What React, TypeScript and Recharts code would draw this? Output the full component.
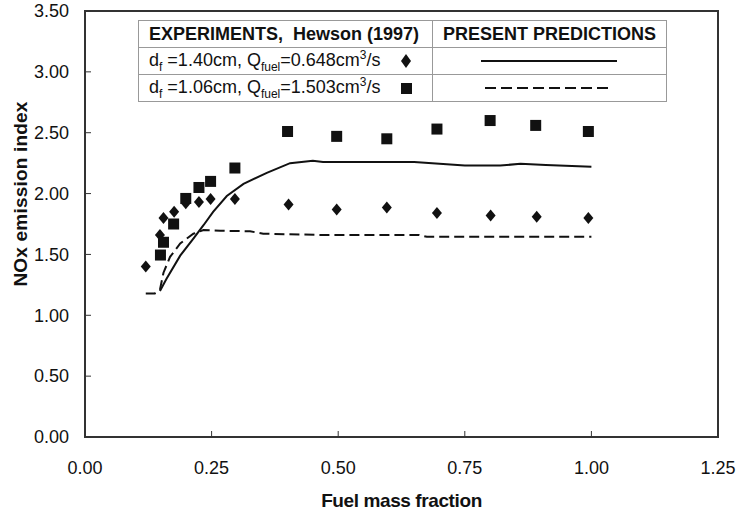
import React from 'react';
import { ComposedChart, Line, Scatter, XAxis, YAxis, ReferenceArea } from 'recharts';

// experiments, Hewson (1997)
const expSmallX = [0.12, 0.148, 0.155, 0.176, 0.199, 0.225, 0.248, 0.296, 0.402, 0.497, 0.596, 0.695, 0.801, 0.892, 0.994];
const expSmallY = [1.4, 1.66, 1.8, 1.85, 1.92, 1.93, 1.955, 1.955, 1.91, 1.87, 1.885, 1.84, 1.82, 1.81, 1.8];
const expLargeX = [0.149, 0.155, 0.175, 0.199, 0.225, 0.248, 0.296, 0.4, 0.497, 0.596, 0.695, 0.8, 0.89, 0.994];
const expLargeY = [1.495, 1.6, 1.75, 1.96, 2.05, 2.1, 2.21, 2.51, 2.47, 2.45, 2.53, 2.6, 2.56, 2.51];

// present predictions
const predSolidX = [0.148, 0.161, 0.188, 0.214, 0.234, 0.253, 0.28, 0.313, 0.359, 0.405, 0.45, 0.47, 0.65, 0.75, 0.82, 0.86, 0.91, 1.0];
const predSolidY = [1.2, 1.3, 1.49, 1.63, 1.74, 1.85, 1.98, 2.08, 2.17, 2.25, 2.27, 2.26, 2.26, 2.23, 2.23, 2.245, 2.235, 2.22];
const predDashX = [0.12, 0.138, 0.148, 0.155, 0.168, 0.188, 0.214, 0.234, 0.267, 0.326, 0.352, 0.464, 0.66, 0.675, 1.0];
const predDashY = [1.18, 1.18, 1.21, 1.35, 1.48, 1.59, 1.67, 1.7, 1.695, 1.69, 1.67, 1.66, 1.66, 1.645, 1.645];

const xTicks = [0, 0.25, 0.5, 0.75, 1.0, 1.25];
const yTicks = [0, 0.5, 1.0, 1.5, 2.0, 2.5, 3.0, 3.5];

const zip = (xs: number[], ys: number[]) => xs.map((x, i) => ({ x, y: ys[i] }));

const FONT = '"Liberation Sans", Arial, sans-serif';
const INK = '#111';
const FRAME = '#333';

const Diamond = (props: any) => {
  const { cx, cy } = props;
  return <path d={`M${cx},${cy - 6} L${cx + 5},${cy} L${cx},${cy + 6} L${cx - 5},${cy} Z`} fill={INK} />;
};

const Square = (props: any) => {
  const { cx, cy } = props;
  return <rect x={cx - 5.5} y={cy - 5.5} width={11} height={11} fill={INK} />;
};

const XTick = (props: any) => {
  const { x, y, payload } = props;
  return (
    <g>
      <line x1={x} x2={x} y1={y} y2={y - 6} stroke={FRAME} strokeWidth={1} />
      <text x={x} y={y + 31} dy="0.35em" textAnchor="middle" fontSize={18} fill={INK} fontFamily={FONT}>
        {Number(payload.value).toFixed(2)}
      </text>
    </g>
  );
};

const YTick = (props: any) => {
  const { x, y, payload } = props;
  return (
    <g>
      <line x1={x} x2={x + 6} y1={y} y2={y} stroke={FRAME} strokeWidth={1} />
      <text x={x - 16} y={y} dy="0.35em" textAnchor="end" fontSize={18} fill={INK} fontFamily={FONT}>
        {Number(payload.value).toFixed(2)}
      </text>
    </g>
  );
};

const cell: React.CSSProperties = {
  border: '1.5px solid #999',
  padding: '0 10px',
  whiteSpace: 'nowrap',
  height: 26,
};

const small: React.CSSProperties = { fontSize: 12 };

const LegendTable = () => (
  <table
    style={{
      position: 'absolute',
      left: 138,
      top: 20,
      width: 529,
      borderCollapse: 'collapse',
      fontFamily: FONT,
      fontSize: 18,
      color: INK,
      background: '#fff',
    }}
  >
    <tbody>
      <tr>
        <td style={{ ...cell, width: 276, fontWeight: 'bold' }}>EXPERIMENTS,&nbsp; Hewson (1997)</td>
        <td style={{ ...cell, fontWeight: 'bold', textAlign: 'center' }}>PRESENT PREDICTIONS</td>
      </tr>
      <tr>
        <td style={cell}>
          <span>
            d<sub style={small}>f</sub> =1.40cm, Q<sub style={small}>fuel</sub>=0.648cm
            <sup style={small}>3</sup>/s
          </span>
          <svg width={14} height={16} style={{ position: 'absolute', left: 260, top: 32 }}>
            <path d="M7,1 L12,8 L7,15 L2,8 Z" fill={INK} />
          </svg>
        </td>
        <td style={{ ...cell, textAlign: 'center' }}>
          <svg width={140} height={6} style={{ display: 'block', margin: '0 auto' }}>
            <line x1={2} x2={138} y1={3} y2={3} stroke={INK} strokeWidth={2} />
          </svg>
        </td>
      </tr>
      <tr>
        <td style={cell}>
          <span>
            d<sub style={small}>f</sub> =1.06cm, Q<sub style={small}>fuel</sub>=1.503cm
            <sup style={small}>3</sup>/s
          </span>
          <svg width={14} height={14} style={{ position: 'absolute', left: 261, top: 61 }}>
            <rect x={1} y={1} width={11} height={11} fill={INK} />
          </svg>
        </td>
        <td style={{ ...cell, textAlign: 'center' }}>
          <svg width={132} height={6} style={{ display: 'block', margin: '0 auto' }}>
            <line x1={2} x2={130} y1={3} y2={3} stroke={INK} strokeWidth={2} strokeDasharray="11 5" />
          </svg>
        </td>
      </tr>
    </tbody>
  </table>
);

export default function App() {
  return (
    <div style={{ position: 'absolute', left: 0, top: 0, width: 736, height: 514, background: '#fff' }}>
      <ComposedChart width={736} height={514} margin={{ top: 11, right: 18, bottom: 0, left: 0 }}>
        <XAxis
          type="number"
          dataKey="x"
          domain={[0, 1.25]}
          ticks={xTicks}
          axisLine={false}
          tickLine={false}
          tickSize={0}
          tickMargin={0}
          height={77}
          tick={<XTick />}
          allowDataOverflow
          label={{
            content: (p: any) => {
              const vb = p.viewBox;
              return (
                <text
                  x={vb.x + vb.width / 2}
                  y={vb.y + 63}
                  dy="0.35em"
                  textAnchor="middle"
                  fontSize={19}
                  fontWeight="bold"
                  fill={INK}
                  fontFamily={FONT}
                  letterSpacing={-0.4}
                >
                  Fuel mass fraction
                </text>
              );
            },
          }}
        />
        <YAxis
          type="number"
          dataKey="y"
          domain={[0, 3.5]}
          ticks={yTicks}
          axisLine={false}
          tickLine={false}
          tickSize={0}
          tickMargin={0}
          width={85}
          tick={<YTick />}
          allowDataOverflow
          label={{
            content: (p: any) => {
              const vb = p.viewBox;
              const cx = 20;
              const cy = vb.y + vb.height / 2 - 30;
              return (
                <text
                  x={cx}
                  y={cy}
                  dy="0.35em"
                  textAnchor="middle"
                  transform={`rotate(-90 ${cx} ${cy})`}
                  fontSize={19}
                  fontWeight="bold"
                  fill={INK}
                  fontFamily={FONT}
                  letterSpacing={0.2}
                >
                  NOx emission index
                </text>
              );
            },
          }}
        />
        <ReferenceArea x1={0} x2={1.25} y1={0} y2={3.5} fill="none" stroke={FRAME} strokeWidth={2} />
        <Line
          data={zip(predSolidX, predSolidY)}
          dataKey="y"
          type="linear"
          stroke={INK}
          strokeWidth={2}
          dot={false}
          isAnimationActive={false}
        />
        <Line
          data={zip(predDashX, predDashY)}
          dataKey="y"
          type="linear"
          stroke={INK}
          strokeWidth={2}
          strokeDasharray="10 5"
          dot={false}
          isAnimationActive={false}
        />
        <Scatter data={zip(expSmallX, expSmallY)} shape={<Diamond />} isAnimationActive={false} />
        <Scatter data={zip(expLargeX, expLargeY)} shape={<Square />} isAnimationActive={false} />
      </ComposedChart>
      <LegendTable />
    </div>
  );
}
